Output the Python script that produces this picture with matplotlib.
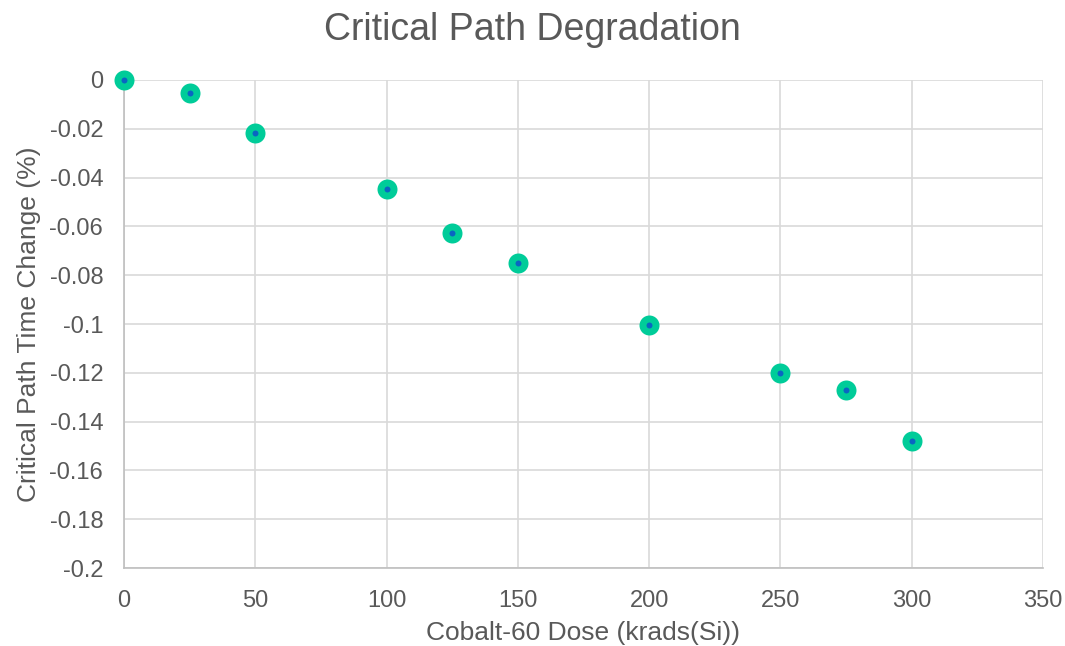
import matplotlib.pyplot as plt
from matplotlib.ticker import FuncFormatter

plt.rcParams['font.family'] = ['Liberation Sans', 'DejaVu Sans']

dose = [0, 25, 50, 100, 125, 150, 200, 250, 275, 300]
change = [0, -0.0053, -0.0217, -0.0447, -0.0627, -0.075, -0.1004, -0.1201, -0.127, -0.148]

xticks = [0, 50, 100, 150, 200, 250, 300, 350]
yticks = [0, -0.02, -0.04, -0.06, -0.08, -0.1, -0.12, -0.14, -0.16, -0.18, -0.2]

txt = '#595959'
fig = plt.figure(figsize=(10.65, 6.46), dpi=100)
ax = fig.add_axes([0.1164, 0.1207, 0.8629, 0.7555])

ax.plot(dose, change, 'o', ms=14.4, color='#00CC99', mew=0, zorder=3, clip_on=False)
ax.plot(dose, change, 'o', ms=4.3, color='#0A66C2', mew=0, zorder=4, clip_on=False)

ax.set_xlim(0, 350)
ax.set_ylim(-0.2, 0)
ax.set_xticks(xticks)
ax.set_yticks(yticks)
ax.yaxis.set_major_formatter(FuncFormatter(lambda v, p: '0' if abs(v) < 1e-9 else ('%g' % v)))
ax.grid(True, color='#D9D9D9', lw=1.2)
ax.set_axisbelow(True)
for s in ['top', 'right']:
    ax.spines[s].set_visible(False)
for s in ['left', 'bottom']:
    ax.spines[s].set_color('#BFBFBF')
    ax.spines[s].set_linewidth(1.2)
ax.tick_params(length=0, labelsize=17, labelcolor=txt)
ax.tick_params(axis='x', pad=16)
ax.tick_params(axis='y', pad=15)

ax.set_xlabel('Cobalt-60 Dose (krads(Si))', fontsize=19, color=txt, labelpad=6)
ax.set_ylabel('Critical Path Time Change (%)', fontsize=19, color=txt, labelpad=6)
fig.text(0.5, 0.954, 'Critical Path Degradation', ha='center', va='center', fontsize=27, color=txt)

fig.savefig('out.png', dpi=100, facecolor='white')
